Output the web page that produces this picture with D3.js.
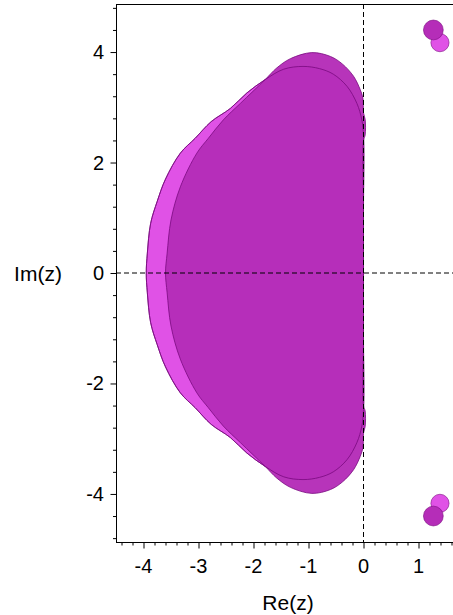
<!DOCTYPE html>
<html><head><meta charset="utf-8">
<script src="https://cdn.jsdelivr.net/npm/d3@7/dist/d3.min.js"></script>
<style>body{margin:0;background:#fff}svg{display:block}text{font-family:"Liberation Sans",Arial,sans-serif;fill:#000}</style>
</head><body><svg id="c" width="453" height="615"></svg>
<script>
// Upper-half boundary of region A (light magenta), [Re, Im]
const regionA = [[-3.95,0],[-3.93,0.36],[-3.87,0.9],[-3.75,1.3],[-3.6,1.7],[-3.33,2.17],[-3.06,2.44],[-2.77,2.74],[-2.42,2.98],[-2.12,3.26],[-1.79,3.5],[-1.45,3.69],[-1.1,3.74],[-0.8,3.7],[-0.55,3.6],[-0.3,3.38],[-0.12,3.07],[-0.03,2.77],[0,2.47],[0,1.2],[0,0]];
// Upper-half boundary of region B (dark purple), [Re, Im]
const regionB = [[-3.6,0],[-3.57,0.36],[-3.5,0.96],[-3.33,1.56],[-3.03,2.17],[-2.82,2.44],[-2.55,2.77],[-2.24,3.07],[-1.79,3.5],[-1.58,3.71],[-1.33,3.88],[-0.94,3.99],[-0.6,3.92],[-0.38,3.78],[-0.18,3.56],[-0.06,3.32],[-0.01,3.16],[0,2.9],[0.03,2.78],[0.03,2.5],[0,2.4],[0,1.2],[0,0]];
// Small islands: [Re, Im, radius]
const islandsA = [[1.39,4.17,0.165],[1.39,-4.17,0.165]];
const islandsB = [[1.27,4.4,0.18],[1.27,-4.4,0.18]];
const xMajor = [-4,-3,-2,-1,0,1];
const yMajor = [-4,-2,0,2,4];

const svg = d3.select("#c");
const x = d3.scaleLinear().domain([-4.5,1.627]).range([116,453]);
const y = d3.scaleLinear().domain([-4.87,4.87]).range([542,4]);
const colA = "#e052e6", colB = "#b52db8", edge = "#7a0a80";

function full(upper){
  const lower = upper.slice(1,-1).reverse().map(d=>[d[0],-d[1]]);
  return upper.concat(lower.reverse().reverse()).concat([]);
}
function closedPath(upper){
  // go up along upper half (left→right), then down along lower half (right→left)
  const lower = upper.slice(0,-1).reverse().map(d=>[d[0],-d[1]]).reverse();
  const pts = upper.concat(lower.slice(1).reverse().reverse());
  return pts;
}
function polygon(upper){
  const low = upper.slice(1,upper.length-1).map(d=>[d[0],-d[1]]).reverse();
  // upper goes from left(im=0) to (0,0); we need: left -> top -> (0,0) -> bottom -> back to left
  const lowRev = upper.slice(1,upper.length-1).map(d=>[d[0],-d[1]]);
  return upper.concat(lowRev.reverse().reverse().slice().reverse());
}
const line = d3.line().x(d=>x(d[0])).y(d=>y(d[1])).curve(d3.curveCatmullRomClosed.alpha(0.5));

function makePts(upper){
  const lower = upper.slice(1,upper.length-1).map(d=>[d[0],-d[1]]).reverse();
  // upper: left..top..(0,0); lower reversed order: from near (0,0) going down to left
  const lowerOrdered = upper.slice(1,upper.length-1).map(d=>[d[0],-d[1]]).reverse();
  return upper.concat(lowerOrdered);
}

const g = svg.append("g");
g.append("path").attr("d", line(makePts(regionA))).attr("fill", colA).attr("stroke", edge).attr("stroke-width",0.8);
islandsA.forEach(d=>g.append("circle").attr("cx",x(d[0])).attr("cy",y(d[1])).attr("r",x(d[2])-x(0)).attr("fill",colA).attr("stroke",edge).attr("stroke-width",0.6));
g.append("path").attr("d", line(makePts(regionB))).attr("fill", colB).attr("fill-opacity",0.97).attr("stroke", edge).attr("stroke-width",0.8);
islandsB.forEach(d=>g.append("circle").attr("cx",x(d[0])).attr("cy",y(d[1])).attr("r",x(d[2])-x(0)).attr("fill",colB).attr("stroke",edge).attr("stroke-width",0.6));
// outline of A visible through B
g.append("path").attr("d", line(makePts(regionA))).attr("fill","none").attr("stroke", edge).attr("stroke-width",0.8);

// dashed axes
svg.append("line").attr("x1",116).attr("x2",453).attr("y1",y(0)).attr("y2",y(0)).attr("stroke","#000").attr("stroke-dasharray","5,3");
svg.append("line").attr("x1",x(0)).attr("x2",x(0)).attr("y1",4).attr("y2",542).attr("stroke","#000").attr("stroke-dasharray","5,3");

// frame
svg.append("line").attr("x1",116).attr("x2",453).attr("y1",4.5).attr("y2",4.5).attr("stroke","#000");
// axes with ticks
const xMinor = d3.range(-4.4,1.61,0.2).filter(v=>Math.abs(v-Math.round(v))>1e-6);
const yMinor = d3.range(-4.8,4.81,0.4).filter(v=>Math.abs(v/2-Math.round(v/2))>1e-6);
const xa = svg.append("g").attr("transform","translate(0,542.5)");
xa.call(d3.axisBottom(x).tickValues(xMinor).tickSize(3).tickFormat(""));
xa.append("g").call(d3.axisBottom(x).tickValues(xMajor).tickSize(6).tickFormat(""));
xa.selectAll(".domain").attr("d","M116,0H453");
xMajor.forEach(v=>svg.append("text").attr("x",x(v)).attr("y",573).attr("text-anchor","middle").attr("font-size",20).text(v<0?"-"+Math.abs(v):v));
const ya = svg.append("g").attr("transform","translate(116.5,0)");
ya.call(d3.axisLeft(y).tickValues(yMinor).tickSize(3.5).tickFormat(""));
ya.append("g").call(d3.axisLeft(y).tickValues(yMajor).tickSize(6).tickFormat(""));
ya.selectAll(".domain").attr("d","M0,4H0V542");
yMajor.forEach(v=>svg.append("text").attr("x",104).attr("y",y(v)+7).attr("text-anchor","end").attr("font-size",20).text(v<0?"-"+Math.abs(v):v));
svg.append("text").attr("x",288).attr("y",610).attr("text-anchor","middle").attr("font-size",21).text("Re(z)");
svg.append("text").attr("x",38).attr("y",281).attr("text-anchor","middle").attr("font-size",21).text("Im(z)");
</script></body></html>
